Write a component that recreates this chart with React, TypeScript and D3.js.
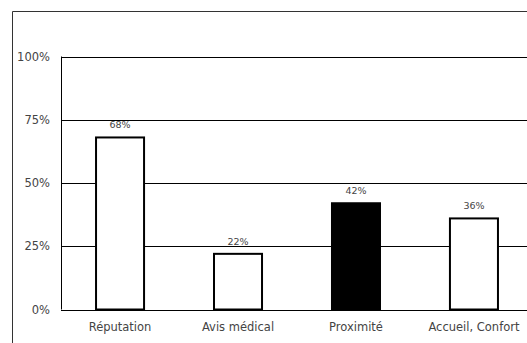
import React from "react";
import * as d3 from "d3";

const categories = ["Réputation", "Avis médical", "Proximité", "Accueil, Confort"];
const values = [0.68, 0.22, 0.42, 0.36];
const yTicks = [0, 0.25, 0.5, 0.75, 1];
const highlighted = "Proximité";

const W = 527;
const H = 343;

export default function App() {
	const x = d3
		.scaleBand<string>()
		.domain(categories)
		.range([61, 533])
		.paddingInner(0.593)
		.paddingOuter(0.297);

	const y = d3.scaleLinear().domain([0, 1]).range([309.5, 56.5]);
	const fmt = d3.format(".0%");
	const font = "'DejaVu Sans', Verdana, sans-serif";

	return (
		<svg
			width={W}
			height={H}
			style={{ position: "absolute", left: 0, top: 0, background: "#fff" }}
			fontFamily={font}
		>
			{/* outer frame */}
			<path d={`M12.5,${H} V11.5 H${W}`} fill="none" stroke="#333" strokeWidth={1} />

			{/* gridlines */}
			{yTicks.map((t) => (
				<line key={t} x1={61} x2={W} y1={Math.round(y(t)) + 0.5} y2={Math.round(y(t)) + 0.5} stroke="#000" strokeWidth={1} />
			))}
			<line x1={61.5} x2={61.5} y1={y(1)} y2={y(0)} stroke="#000" strokeWidth={1} />

			{yTicks.map((t) => (
				<text key={t} x={50} y={y(t)} dy="0.35em" textAnchor="end" fontSize={11.5} fill="#444">
					{fmt(t)}
				</text>
			))}

			{categories.map((c, i) => {
				const x0 = x(c)!;
				const top = y(values[i]);
				return (
					<g key={c}>
						<rect
							x={x0}
							y={top}
							width={x.bandwidth()}
							height={y(0) - top}
							fill={c === highlighted ? "#000" : "#fff"}
							stroke="#000"
							strokeWidth={2}
						/>
						<text x={x0 + x.bandwidth() / 2} y={top - 9} textAnchor="middle" fontSize={9.5} fill="#444">
							{fmt(values[i])}
						</text>
						<text x={x0 + x.bandwidth() / 2} y={331} textAnchor="middle" fontSize={11.5} fill="#444">
							{c}
						</text>
					</g>
				);
			})}
		</svg>
	);
}
